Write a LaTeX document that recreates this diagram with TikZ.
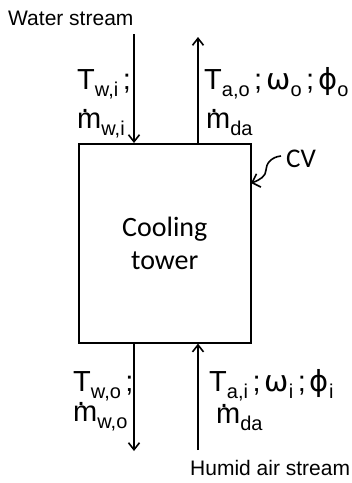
\documentclass[tikz,border=0pt]{standalone}
\usepackage{fontspec}
\setmainfont{Liberation Sans}
\newfontfamily\calfont{Carlito}
\newfontfamily\grfont{DejaVu Sans}
\usetikzlibrary{arrows.meta}
\newcommand{\sbs}[1]{\raisebox{-7pt}{\fontsize{20}{20}\selectfont #1}}
\newcommand{\mdt}{\rlap{\kern4pt\raisebox{16pt}{.}}m}
\newcommand{\sep}{\kern4.5pt;\kern4pt}
\tikzset{
  lbl/.style={anchor=base west, inner sep=0pt, text height=20pt, text depth=10pt, font=\fontsize{29}{29}\selectfont},
  small/.style={anchor=base west, inner sep=0pt, font=\fontsize{21}{21}\selectfont},
  flow/.style={line width=1.6pt, -{Straight Barb[length=7pt,width=11pt,line width=1.6pt]}},
  cvbox/.style={draw, line width=1.6pt, minimum width=172pt, minimum height=199pt, anchor=north west, inner sep=0pt,
    align=center, font=\calfont\fontsize{28}{33}\selectfont}
}
\begin{document}
\begin{tikzpicture}[x=1pt,y=-1pt]
\useasboundingbox (0,0) rectangle (352,483);
\node[cvbox] (box) at (78,143) {Cooling\\tower};
\coordinate (wi) at (134,34);
\coordinate (ao) at (198,37);
\coordinate (wo) at (134,451);
\coordinate (ai) at (198,450);
\draw[flow] (wi) -- (wi |- box.north);
\draw[flow] (ao |- box.north) -- (ao);
\draw[flow] (wo |- box.south) -- (wo);
\draw[flow] (ai) -- (ai |- box.south);
\node[small] (ws) at (8,25) {Water stream};
\node[small] (ha) at (190,475) {Humid air stream};
\node[lbl] (twi) at (77,89) {T\sbs{w,i}\sep};
\node[lbl] (mwi) at (77,128) {\mdt\sbs{w,i}};
\node[lbl] (tao) at (204,89) {T\sbs{a,o}\sep{\grfont ω}\sbs{o}\sep{\grfont ϕ}\sbs{o}};
\node[lbl] (mdo) at (206,128) {\mdt\sbs{da}};
\node[lbl] (two) at (73,391) {T\sbs{w,o}\sep};
\node[lbl] (mwo) at (73,421) {\mdt\sbs{w,o}};
\node[lbl] (tai) at (209,391) {T\sbs{a,i}\sep{\grfont ω}\sbs{i}\sep{\grfont ϕ}\sbs{i}};
\node[lbl] (mdi) at (216,423) {\mdt\sbs{da}};
\node[anchor=base west, inner sep=0pt, font=\calfont\fontsize{27}{27}\selectfont] (cv) at (286,167) {CV};
\coordinate (cvs) at (281,156);
\coordinate (cve) at (251,183);
\draw[line width=1.6pt, -{Straight Barb[length=7pt,width=14pt,line width=1.6pt]}] (cvs) .. controls (271,157) and (266,164) .. (266,170) .. controls (266,176) and (260,180) .. (cve);
\end{tikzpicture}
\end{document}
